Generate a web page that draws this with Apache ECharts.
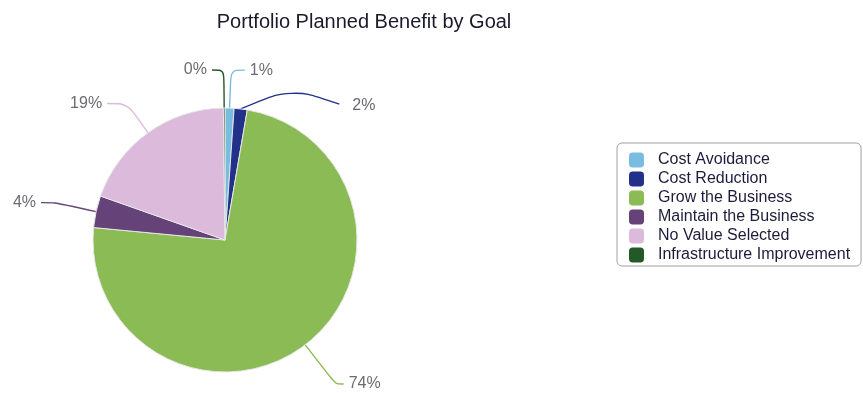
<!DOCTYPE html>
<html><head><meta charset="utf-8">
<script src="https://cdn.jsdelivr.net/npm/echarts@6/dist/echarts.min.js"></script>
<style>html,body{margin:0;padding:0;background:#fff}#c{width:863px;height:393px}</style>
</head><body><div id="c"></div>
<script>
var categories = ['Cost Avoidance','Cost Reduction','Grow the Business','Maintain the Business','No Value Selected','Infrastructure Improvement'];
var values = [1.1, 1.6, 73.8, 3.9, 19.4, 0.2];
var colors = ['#78bddf','#22318a','#8bbb55','#654278','#dbbadc','#235926'];

// leader line lengths per slice (style only)
var leader = [[38,14],[26,56],[50,8],[42,14],[36,20],[38,12]];

var chart = echarts.init(document.getElementById('c'), null, {renderer:'canvas'});
chart.setOption({
  animation:false,
  color: colors,
  title:{text:'Portfolio Planned Benefit by Goal', left:359, top:7, textAlign:'center',
    textStyle:{fontFamily:'Liberation Sans, Arial', fontSize:20, fontWeight:'normal', color:'#1a1a2a'}},
  legend:{orient:'vertical', left:617, top:143, itemWidth:15, itemHeight:15, itemGap:3,
    icon:'roundRect', itemStyle:{borderWidth:0},
    borderColor:'#a0a0a0', borderWidth:1, borderRadius:5, padding:[9,11,3,12],
    textStyle:{fontFamily:'Liberation Sans, Arial', fontSize:16, lineHeight:16, color:'#1c1c3a', padding:[0,0,0,9]},
    data: categories},
  series:[{
    type:'pie', center:[225,240], radius:132, startAngle:90, clockwise:true,
    percentPrecision:0,
    itemStyle:{borderColor:'#e6e6e6', borderWidth:1},
    label:{formatter:'{d}%', fontFamily:'Liberation Sans, Arial', fontSize:16, color:'#6b6b72'},
    labelLine:{smooth:0.3, lineStyle:{width:1.4}},
    labelLayout:function(p){
      if (p.dataIndex===1 && p.labelLinePoints) {
        var pts = p.labelLinePoints;
        var last = pts[pts.length-1];
        var np = pts.slice(0, pts.length-1).concat([[last[0]-8, last[1]+16]]);
        return {dy:17, labelLinePoints:np};
      }
    },
    data: categories.map(function(n,i){
      return {name:n, value:values[i], labelLine:{length:leader[i][0], length2:leader[i][1]}};
    })
  }]
});
</script></body></html>
